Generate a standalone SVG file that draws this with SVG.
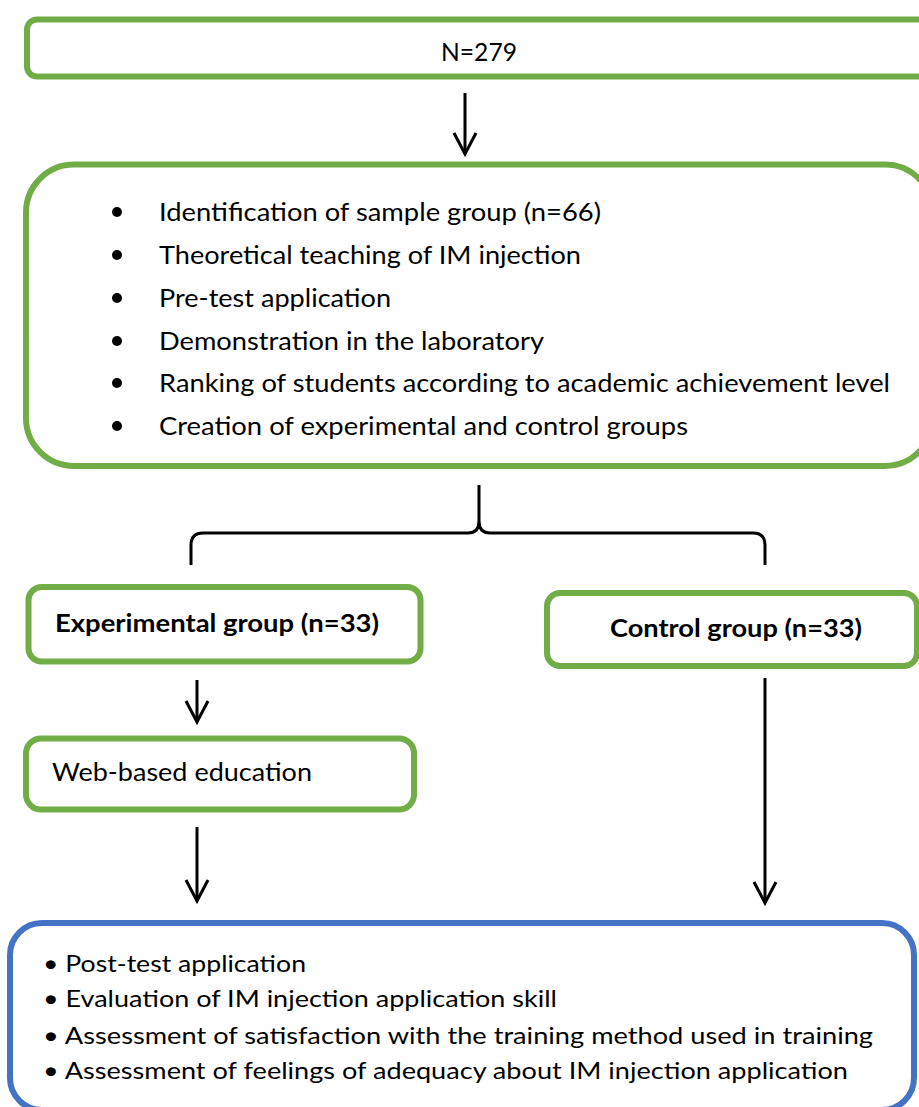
<svg xmlns="http://www.w3.org/2000/svg" width="919" height="1107" viewBox="0 0 919 1107">
<defs>
<style>
.g{fill:#fff;stroke:#70AD47;stroke-width:6}
.b{fill:#fff;stroke:#4472C4;stroke-width:6}
.t{font-family:Lato,"Open Sans","Liberation Sans",sans-serif;font-size:25px;fill:#000}
.tb{font-family:Lato,"Open Sans","Liberation Sans",sans-serif;font-size:25px;font-weight:bold;fill:#000}
.ts{font-family:Lato,"Open Sans","Liberation Sans",sans-serif;font-size:24px;fill:#000}
.c{fill:none;stroke:#000;stroke-width:3}
</style>
<marker id="arr" viewBox="-23 -13 26 26" markerWidth="26" markerHeight="26" refX="0" refY="0" orient="auto" markerUnits="userSpaceOnUse">
<path d="M-21,-11 L0,0 L-21,11" fill="none" stroke="#000" stroke-width="3"/>
</marker>
</defs>
<rect width="919" height="1107" fill="#fff"/>
<g id="connectors">
<line class="c" x1="465" y1="93" x2="465" y2="154" marker-end="url(#arr)"/>
<path class="c" d="M191,565 V545 Q191,533 203,533 H468 Q479,533 479,521 V485 M479,521 Q479,533 490,533 H753 Q765,533 765,545 V565"/>
<line class="c" x1="197" y1="680" x2="197" y2="722" marker-end="url(#arr)"/>
<line class="c" x1="197" y1="827" x2="197" y2="901" marker-end="url(#arr)"/>
<line class="c" x1="765" y1="678" x2="765" y2="903" marker-end="url(#arr)"/>
</g>
<g id="node-total">
<rect class="g" x="27" y="19.5" width="904" height="57" rx="10"/>
<text class="t" x="441" y="61" textLength="76" lengthAdjust="spacingAndGlyphs">N=279</text>
</g>
<g id="node-steps">
<rect class="g" x="26" y="164.5" width="907" height="301.5" rx="48"/>
<g fill="#000">
<circle cx="117" cy="212" r="5"/>
<circle cx="117" cy="255" r="5"/>
<circle cx="117" cy="298" r="5"/>
<circle cx="117" cy="341" r="5"/>
<circle cx="117" cy="383" r="5"/>
<circle cx="117" cy="426" r="5"/>
</g>
<text class="t" x="159" y="221" textLength="442" lengthAdjust="spacingAndGlyphs">Identification of sample group (n=66)</text>
<text class="t" x="159" y="264" textLength="422" lengthAdjust="spacingAndGlyphs">Theoretical teaching of IM injection</text>
<text class="t" x="159" y="307" textLength="232" lengthAdjust="spacingAndGlyphs">Pre-test application</text>
<text class="t" x="159" y="350" textLength="385" lengthAdjust="spacingAndGlyphs">Demonstration in the laboratory</text>
<text class="t" x="159" y="392" textLength="731" lengthAdjust="spacingAndGlyphs">Ranking of students according to academic achievement level</text>
<text class="t" x="159" y="435" textLength="529" lengthAdjust="spacingAndGlyphs">Creation of experimental and control groups</text>
</g>
<g id="node-experimental">
<rect class="g" x="28.5" y="587" width="392" height="74.5" rx="13"/>
<text class="tb" x="55" y="632" textLength="324" lengthAdjust="spacingAndGlyphs">Experimental group (n=33)</text>
</g>
<g id="node-control">
<rect class="g" x="547" y="593" width="370" height="73" rx="13"/>
<text class="tb" x="610" y="637" textLength="252" lengthAdjust="spacingAndGlyphs">Control group (n=33)</text>
</g>
<g id="node-web">
<rect class="g" x="26" y="738.5" width="388" height="71" rx="15"/>
<text class="t" x="52" y="781" textLength="260" lengthAdjust="spacingAndGlyphs">Web-based education</text>
</g>
<g id="node-outcomes">
<rect class="b" x="10" y="923" width="904" height="187" rx="32"/>
<text class="ts" x="43" y="972" textLength="263" lengthAdjust="spacingAndGlyphs">• Post-test application</text>
<text class="ts" x="43" y="1007" textLength="514" lengthAdjust="spacingAndGlyphs">• Evaluation of IM injection application skill</text>
<text class="ts" x="43" y="1044" textLength="830" lengthAdjust="spacingAndGlyphs">• Assessment of satisfaction with the training method used in training</text>
<text class="ts" x="43" y="1079" textLength="805" lengthAdjust="spacingAndGlyphs">• Assessment of feelings of adequacy about IM injection application</text>
</g>
</svg>
